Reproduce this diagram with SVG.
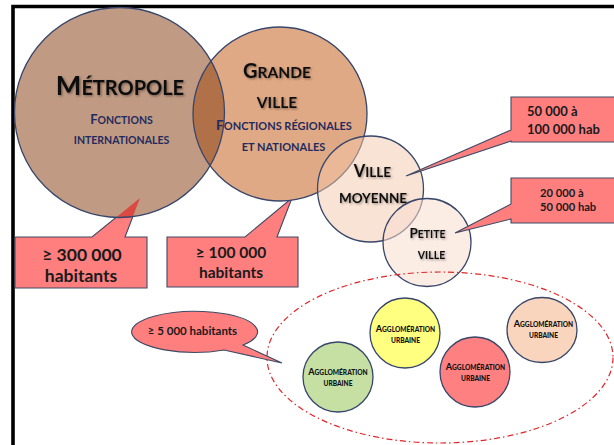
<svg xmlns="http://www.w3.org/2000/svg" width="614" height="445" viewBox="0 0 614 445">
  <defs>
    <style>
      .ring { stroke: #37466a; stroke-width: 1.3; }
      .call { fill: #ff7f7f; stroke: #3f4a66; stroke-width: 1.1; stroke-linejoin: miter; }
      .head { font-family: Lato, "Liberation Sans", sans-serif; font-weight: 700; fill: #111; text-anchor: middle; }
      .sub { font-family: Lato, "Liberation Sans", sans-serif; font-weight: 700; fill: #1f2b5e; text-anchor: middle; }
      .ctxt { font-family: Lato, "Liberation Sans", sans-serif; font-weight: 700; fill: #1a1a1a; }
      .agg { font-family: Lato, "Liberation Sans", sans-serif; font-weight: 900; fill: #111; text-anchor: middle; }
    </style>
    <filter id="shadow" x="-10%" y="-30%" width="130%" height="160%">
      <feDropShadow dx="1.2" dy="1.2" stdDeviation="0.9" flood-color="#000" flood-opacity="0.4"/>
    </filter>
    <clipPath id="clipMetro"><circle cx="119.5" cy="112.5" r="105"/></clipPath>
    <clipPath id="clipGrande"><circle cx="280" cy="114" r="87"/></clipPath>
  </defs>

  <!-- frame -->
  <path d="M13,445 V6.5 H614" fill="none" stroke="#000" stroke-width="3.6"/>

  <!-- population callouts below the large cities -->
  <g id="callout-300k">
    <path class="call" d="M15,237 H92 L140,198 L125,237 H147 V288 H15 Z"/>
    <text class="ctxt" x="82" y="261" font-size="17.5" text-anchor="middle">≥ 300 000</text>
    <text class="ctxt" x="81" y="282" font-size="17.5" text-anchor="middle">habitants</text>
  </g>
  <g id="callout-100k">
    <path class="call" d="M167,237 H245 L292,198 L277,237 H298 V287 H167 Z"/>
    <text class="ctxt" x="231" y="258" font-size="15.5" text-anchor="middle">≥ 100 000</text>
    <text class="ctxt" x="231" y="278" font-size="15.5" text-anchor="middle">habitants</text>
  </g>

  <!-- métropole -->
  <g id="metropole">
    <circle cx="119.5" cy="112.5" r="105" fill="#c09a83"/>
    <path d="M15,237 H92 L140,198 L125,237 H147 V288 H15 Z" fill="#da4a42" clip-path="url(#clipMetro)"/>
    <circle class="ring" cx="119.5" cy="112.5" r="105" fill="none"/>
  </g>

  <!-- grande ville -->
  <g id="grande-ville">
    <circle cx="280" cy="114" r="87" fill="#e0a985"/>
    <circle cx="280" cy="114" r="87" fill="#b07048" clip-path="url(#clipMetro)"/>
    <circle class="ring" cx="119.5" cy="112.5" r="105" fill="none" clip-path="url(#clipGrande)"/>
    <circle class="ring" cx="280" cy="114" r="87" fill="none"/>
  </g>

  <!-- labels of the two large cities -->
  <g id="metropole-label">
    <text class="head" x="120" y="95" filter="url(#shadow)"><tspan font-size="27">M</tspan><tspan font-size="20">ÉTROPOLE</tspan></text>
    <text class="sub" x="121.5" y="124"><tspan font-size="13">F</tspan><tspan font-size="10.5">ONCTIONS</tspan></text>
    <text class="sub" x="121.5" y="144" font-size="10.5">INTERNATIONALES</text>
  </g>
  <g id="grande-ville-label">
    <text class="head" x="277" y="78" filter="url(#shadow)"><tspan font-size="20">G</tspan><tspan font-size="15.5">RANDE</tspan></text>
    <text class="head" x="277" y="108" font-size="15.5" filter="url(#shadow)">VILLE</text>
    <text class="sub" x="284" y="130"><tspan font-size="13.5">F</tspan><tspan font-size="11">ONCTIONS RÉGIONALES</tspan></text>
    <text class="sub" x="283.5" y="151" font-size="11">ET NATIONALES</text>
  </g>

  <!-- ville moyenne -->
  <g id="ville-moyenne">
    <circle class="ring" cx="370.5" cy="189" r="53" fill="rgb(243,199,169)" fill-opacity="0.5"/>
    <text class="head" x="372.5" y="177" filter="url(#shadow)"><tspan font-size="16.5">V</tspan><tspan font-size="13.5">ILLE</tspan></text>
    <text class="head" x="373" y="203" font-size="13.5" filter="url(#shadow)">MOYENNE</text>
  </g>

  <!-- petite ville -->
  <g id="petite-ville">
    <circle class="ring" cx="427" cy="242.5" r="44" fill="rgb(247,221,205)" fill-opacity="0.55"/>
    <text class="head" x="427.5" y="238" filter="url(#shadow)"><tspan font-size="13.5">P</tspan><tspan font-size="10.5">ETITE</tspan></text>
    <text class="head" x="431.5" y="259" font-size="10.5" filter="url(#shadow)">VILLE</text>
  </g>

  <!-- population callouts on the right -->
  <g id="callout-50k">
    <path class="call" d="M511,97 H620 V142 H511 V141 L406,176 L511,130 Z"/>
    <text class="ctxt" x="527" y="116" font-size="13">50 000 à</text>
    <text class="ctxt" x="527" y="134" font-size="13">100 000 hab</text>
  </g>
  <g id="callout-20k">
    <path class="call" d="M511,178 H620 V223 H511 V219 L455,233 L511,204 Z"/>
    <text class="ctxt" x="540" y="197" font-size="11.2">20 000 à</text>
    <text class="ctxt" x="540" y="211" font-size="11.2">50 000 hab</text>
  </g>

  <!-- group of urban areas -->
  <g id="agglomerations-zone">
    <ellipse cx="440" cy="357.5" rx="173" ry="85.5" fill="none" stroke="#e0262a" stroke-width="1.2" stroke-dasharray="6 3 1.5 3"/>
  </g>

  <g id="agglo-green">
    <circle class="ring" cx="338" cy="377" r="35" fill="#c6e0a4"/>
    <text class="agg" x="338" y="374.5"><tspan font-size="9">A</tspan><tspan font-size="6.6">GGLOMÉRATION</tspan></text>
    <text class="agg" x="338" y="386" font-size="6.6">URBAINE</text>
  </g>
  <g id="agglo-yellow">
    <circle class="ring" cx="405" cy="333" r="35" fill="#ffff80"/>
    <text class="agg" x="405.5" y="332"><tspan font-size="9">A</tspan><tspan font-size="6.6">GGLOMÉRATION</tspan></text>
    <text class="agg" x="405.5" y="343" font-size="6.6">URBAINE</text>
  </g>
  <g id="agglo-red">
    <circle class="ring" cx="475" cy="372" r="35" fill="#ff8080"/>
    <text class="agg" x="475.5" y="370"><tspan font-size="9">A</tspan><tspan font-size="6.6">GGLOMÉRATION</tspan></text>
    <text class="agg" x="475.5" y="381" font-size="6.6">URBAINE</text>
  </g>
  <g id="agglo-peach">
    <ellipse class="ring" cx="542" cy="330" rx="35" ry="32.5" fill="#f8d5bc"/>
    <text class="agg" x="543.5" y="326.5"><tspan font-size="9">A</tspan><tspan font-size="6.6">GGLOMÉRATION</tspan></text>
    <text class="agg" x="543.5" y="338" font-size="6.6">URBAINE</text>
  </g>

  <g id="callout-5k">
    <path class="call" d="M224,350 A63,20.5 0 1 1 243,345 L282,363 Z"/>
    <text class="ctxt" x="192.5" y="335" font-size="11.5" text-anchor="middle">≥ 5 000 habitants</text>
  </g>
</svg>
